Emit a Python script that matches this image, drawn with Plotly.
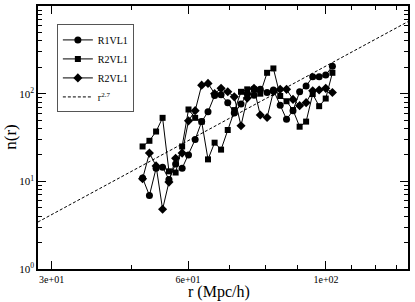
import plotly.graph_objects as go

# r grid (Mpc/h), shared by the three series
r = [50.7, 52.0, 53.3, 54.6, 55.9, 57.3, 58.7, 60.1, 61.6, 63.1,
     64.6, 66.2, 67.8, 69.5, 71.2, 73.0, 74.7, 76.6, 78.4, 80.4,
     82.3, 84.4, 86.4, 88.5, 90.7, 92.9, 95.2, 97.5, 99.9, 102.4]

n_r1vl1 = [10.9, 6.9, 14.1, 14.5, 10.5, 15.8, 14.1, 20.0, 30.0, 48.0,
           62.0, 95.0, 97.0, 79.0, 60.0, 76.0, 100.0, 96.0, 112.0, 103.0,
           110.0, 74.0, 51.0, 64.0, 105.0, 122.0, 156.0, 156.0, 163.0, 205.0]

n_r2vl1_sq = [25.0, 29.0, 37.0, 53.0, 13.0, 12.6, 25.0, 66.0, 53.0, 48.0,
              17.8, 27.6, 23.0, 38.5, 65.0, 105.0, 112.0, 112.0, 100.0, 173.0,
              194.0, 94.0, 82.0, 65.0, 42.0, 48.0, 99.0, 72.0, 88.0, 173.0]

n_r2vl1_di = [10.7, 21.0, 15.0, 4.8, 9.8, 18.3, 21.0, 49.0, 64.0, 125.0,
              131.0, 100.0, 115.0, 105.0, 92.0, 43.0, 89.0, 115.0, 57.0, 53.5,
              105.0, 112.0, 112.0, 86.0, 73.0, 79.0, 108.0, 110.0, 115.0, 103.0]

# reference power-law line (drawn as in the figure)
ref_r = [34.4, 135.5]
ref_n = [3.43, 664.0]

x_tickvals = [36.2, 60, 100]
x_ticktext = ["3e+01", "6e+01", "1e+02"]
x_minor = [48.6, 70, 80, 90, 110, 120, 130]
y_tickvals = [1, 10, 100, 1000]
y_ticktext = ["10<sup>0</sup>", "10<sup>1</sup>", "10<sup>2</sup>", "10<sup>3</sup>"]
y_minor = [m * 10 ** k for k in range(3) for m in range(2, 10)]

FONT = "Liberation Serif"

fig = go.Figure()
fig.add_trace(go.Scatter(x=r, y=n_r1vl1, name="R1VL1", mode="lines+markers",
                         line=dict(color="black", width=1),
                         marker=dict(symbol="circle", size=7, color="black")))
fig.add_trace(go.Scatter(x=r, y=n_r2vl1_sq, name="R2VL1", mode="lines+markers",
                         line=dict(color="black", width=1),
                         marker=dict(symbol="square", size=6, color="black")))
fig.add_trace(go.Scatter(x=r, y=n_r2vl1_di, name="R2VL1", mode="lines+markers",
                         line=dict(color="black", width=1),
                         marker=dict(symbol="diamond", size=7, color="black")))
fig.add_trace(go.Scatter(x=ref_r, y=ref_n, name="r<sup>2.7</sup>", mode="lines",
                         line=dict(color="black", width=1, dash="3px,2px")))

axis_common = dict(showline=True, linecolor="black", linewidth=1.5, mirror="allticks",
                   ticks="inside", tickcolor="black", tickwidth=1, ticklen=8,
                   showgrid=False, zeroline=False, automargin=False,
                   tickfont=dict(family=FONT, size=10, color="black"))

fig.update_layout(
    width=415, height=302,
    margin=dict(l=38, r=7, t=6, b=33),
    paper_bgcolor="white", plot_bgcolor="white",
    showlegend=True,
    legend=dict(x=0.051, y=0.93, xanchor="left", yanchor="top",
                bgcolor="white", bordercolor="#555", borderwidth=1,
                font=dict(family=FONT, size=10, color="black"),
                itemwidth=30, tracegroupgap=0),
    xaxis=dict(type="log", range=[1.5368, 2.1319],
               tickmode="array", tickvals=x_tickvals, ticktext=x_ticktext,
               minor=dict(tickmode="array", tickvals=x_minor, ticks="inside",
                          ticklen=4, tickcolor="black", tickwidth=1),
               **axis_common),
    yaxis=dict(type="log", range=[0, 3],
               tickmode="array", tickvals=y_tickvals, ticktext=y_ticktext,
               minor=dict(tickmode="array", tickvals=y_minor, ticks="inside",
                          ticklen=4, tickcolor="black", tickwidth=1),
               **axis_common),
    annotations=[
        dict(text="r (Mpc/h)", xref="paper", yref="paper", x=0.49, y=-0.089,
             xanchor="center", yanchor="middle", showarrow=False,
             font=dict(family=FONT, size=16, color="black")),
        dict(text="n(r)", xref="paper", yref="paper", x=-0.075, y=0.5,
             xanchor="center", yanchor="middle", showarrow=False, textangle=-90,
             font=dict(family=FONT, size=17, color="black")),
    ],
)
fig.update_yaxes(tickfont=dict(size=11))

fig.write_html("out.html", config={"displayModeBar": False},
               post_script="document.body.style.margin='0px';document.body.style.overflow='hidden';")
